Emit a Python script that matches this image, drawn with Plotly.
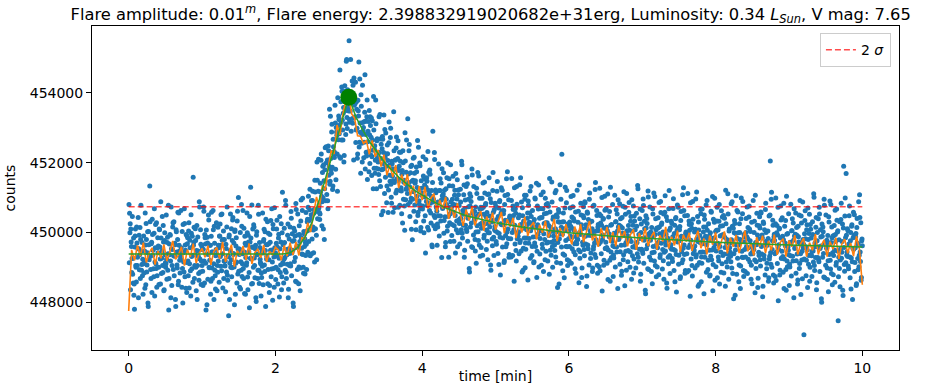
import numpy as np
import plotly.graph_objects as go

# ---------------- data ----------------
title_text = ("Flare amplitude: 0.01<sup><i>m</i></sup>, Flare energy: 2.398832919020682e+31erg, "
              "Luminosity: 0.34 <i>L</i><sub><i>Sun</i></sub>, V mag: 7.65")
x_label = "time [min]"
y_label = "counts"
x_ticks = [0, 2, 4, 6, 8, 10]
y_ticks = [448000, 450000, 452000, 454000]
legend_label = "2 <i>σ</i>"

# raw photometry points, grouped in 0.1-min bins (values in counts), first pass
scatter_segments_a = [
 [450800, 450550, 450250, 450100, 449600, 449250, 448800, 448550, 448200, 447800, 449900, 449050],
 [448580, 449700, 449290, 450430, 449530, 448930, 450140, 449800, 449460, 449080, 448760, 448230],
 [449900, 449140, 448400, 449640, 450260, 448870, 449420, 447980, 450030, 449220, 451330, 449320],
 [448680, 449720, 450380, 449350, 448960, 449980, 448180, 449560, 449100, 450280, 448760, 449850],
 [449610, 448510, 450080, 449240, 450880, 448820, 449470, 449050, 450200, 448330, 449770, 449360],
 [449000, 450500, 448660, 449860, 449390, 447780, 449670, 449940, 449180, 450730, 448480, 449510],
 [450280, 449330, 448760, 449690, 448080, 450080, 449440, 448980, 450580, 448600, 449630, 449200],
 [449320, 450630, 449220, 450030, 447980, 449420, 448870, 450260, 449640, 448400, 449140, 449900],
 [449850, 448760, 450280, 449100, 449560, 448180, 449980, 448960, 449350, 451580, 449720, 448680],
 [449360, 449770, 448330, 450200, 449050, 449470, 448820, 450880, 449240, 450080, 448510, 449610],
 [449510, 448480, 450730, 449180, 449940, 449670, 447780, 449390, 449860, 448660, 450500, 449000],
 [449200, 449630, 448600, 450580, 448980, 449440, 450080, 448080, 449690, 448760, 449330, 450280],
 [448330, 448860, 449180, 449560, 449900, 450240, 449030, 449630, 450530, 449390, 449800, 448680],
 [449800, 449040, 448300, 449540, 450160, 448770, 449320, 447610, 449930, 449120, 450530, 449220],
 [448730, 449770, 450430, 449400, 449010, 450030, 448230, 449610, 449150, 450330, 448810, 451000],
 [449530, 448430, 450000, 449160, 450800, 448740, 449390, 448970, 450120, 448250, 449690, 449280],
 [449060, 450560, 448720, 449920, 449450, 447840, 449730, 451300, 449240, 450790, 448540, 449570],
 [450220, 449270, 448700, 449630, 448020, 450020, 449380, 448920, 450520, 448540, 449570, 449140],
 [448180, 448710, 449030, 449410, 449750, 450090, 448880, 449480, 450380, 449240, 449650, 448530],
 [449980, 449220, 448480, 449720, 450340, 448950, 449500, 448060, 450110, 449300, 450710, 449400],
 [448650, 449690, 450350, 449320, 448930, 449950, 448150, 449530, 449070, 450250, 448730, 451150],
 [449650, 448550, 450120, 449280, 450920, 448860, 449510, 449090, 450240, 448370, 449810, 449400],
 [449100, 450600, 448760, 449960, 449490, 447880, 449770, 450040, 449280, 450830, 448580, 449610],
 [450530, 449580, 449010, 449940, 448330, 450330, 449840, 449380, 450980, 449000, 450030, 449600],
 [448810, 449340, 449660, 450040, 450380, 450720, 449740, 450340, 451240, 450100, 450510, 449390],
 [450920, 450160, 449420, 450660, 451500, 450110, 450660, 449220, 451500, 450690, 452100, 450790],
 [450370, 451410, 452070, 451040, 450880, 451900, 450100, 451480, 451250, 452430, 450910, 452000],
 [452010, 450910, 452480, 451640, 453530, 451470, 452120, 451700, 453100, 451230, 452670, 452260],
 [452150, 453650, 451810, 453010, 452790, 451180, 453070, 453340, 452830, 454660, 452130, 453160],
 [454170, 453220, 452650, 453580, 452210, 454210, 453570, 453110, 454960, 452980, 454010, 453580],
 [455500, 453160, 453480, 453860, 454000, 454340, 453130, 453730, 454430, 453290, 453700, 452580],
 [453750, 452990, 452250, 453490, 454890, 452590, 453140, 451700, 453620, 452810, 454220, 452910],
 [452140, 453180, 454520, 452810, 452300, 453320, 451520, 452900, 452320, 453500, 451980, 453070],
 [452730, 451630, 453200, 452360, 453900, 451840, 452490, 452070, 453120, 451250, 452690, 452280],
 [451820, 453320, 451480, 452680, 452120, 450510, 452400, 452670, 451820, 453370, 451120, 452150],
 [452850, 451900, 451330, 452260, 450570, 452570, 451930, 451470, 452990, 451010, 452040, 451610],
 [450580, 453460, 451430, 451810, 452080, 452420, 451210, 451810, 452630, 451490, 451900, 450780],
 [452040, 451280, 450540, 451780, 452340, 450950, 451500, 450060, 452050, 451240, 452650, 451340],
 [453260, 451680, 452340, 451310, 450870, 451890, 450090, 451470, 450950, 452130, 450610, 451700],
 [451410, 450310, 451880, 451040, 452640, 450580, 451230, 450810, 451910, 450040, 451480, 451070],
 [450670, 452170, 450330, 451530, 451020, 449410, 451300, 451570, 450770, 452320, 450070, 451100],
 [451790, 450840, 450270, 451200, 449590, 452900, 450950, 450490, 452090, 450110, 451140, 450710],
 [449630, 450160, 450480, 450860, 451200, 451540, 450330, 450930, 451830, 450690, 451100, 449980],
 [451210, 450450, 449710, 450950, 451570, 450180, 450730, 449290, 451340, 450530, 451940, 450630],
 [449910, 450950, 451610, 450580, 450190, 451210, 449410, 450790, 450330, 451510, 449990, 451080],
 [450770, 449670, 451240, 450400, 452040, 449980, 450630, 450210, 451360, 449490, 450930, 450520],
 [450090, 451590, 449750, 450950, 450480, 448870, 450760, 451030, 450270, 451820, 449570, 450600],
 [451320, 450370, 449800, 450730, 449120, 451120, 450480, 450020, 451620, 449640, 450670, 450240],
 [449570, 450690, 450280, 451420, 450520, 449920, 451130, 450790, 450450, 450070, 449750, 449220],
 [450260, 451570, 450160, 450970, 448920, 450360, 449810, 451200, 450580, 449340, 450080, 450840],
 [450750, 449660, 451180, 450000, 450460, 449080, 450880, 449860, 450250, 451280, 450620, 449580],
 [450220, 450630, 449190, 451060, 449910, 450330, 449680, 451740, 450100, 450940, 449370, 450470],
 [450330, 449300, 451550, 450000, 450760, 450490, 448600, 450210, 450680, 449480, 451320, 449820],
 [449990, 450420, 449390, 451370, 449770, 450230, 450870, 448870, 450480, 449550, 450120, 451070],
 [448990, 449520, 449840, 450220, 450560, 450900, 449690, 450290, 451190, 450050, 450460, 449340],
 [450630, 449870, 449130, 450370, 450990, 449600, 450150, 448710, 450760, 449950, 451360, 450050],
 [449380, 450420, 451080, 450050, 449660, 450680, 448880, 450260, 449800, 450980, 449460, 450550],
 [450280, 449180, 450750, 449910, 451550, 449490, 450140, 449720, 450870, 449000, 450440, 450030],
 [449640, 451140, 449300, 450500, 450030, 448420, 450310, 450580, 449820, 451370, 449120, 450150],
 [452240, 449950, 449380, 450310, 448700, 450700, 450060, 449600, 451200, 449220, 450250, 449820],
 [449180, 450300, 449890, 451030, 450130, 449530, 450740, 450400, 450060, 449680, 449360, 448830],
 [449900, 451210, 449800, 450610, 448560, 450000, 449450, 450840, 450220, 448980, 449720, 450480],
 [450420, 449330, 450850, 449670, 450130, 448750, 450550, 449530, 449920, 450950, 450290, 449250],
 [449910, 450320, 448880, 450750, 449600, 450020, 449370, 451430, 449790, 450630, 449060, 450160],
 [450050, 449020, 451270, 449720, 450480, 450210, 448320, 449930, 450400, 449200, 451040, 449540],
 [449720, 450150, 449120, 451100, 449500, 449960, 450600, 448600, 450210, 449280, 449850, 450800],
 [448740, 449270, 449590, 449970, 450310, 450650, 449440, 450040, 450940, 449800, 450210, 449090],
 [450390, 449630, 448890, 450130, 450750, 449360, 449910, 448470, 450520, 449710, 451120, 449810],
 [449160, 450200, 450860, 449830, 449440, 450460, 448660, 450040, 449580, 450760, 449240, 450330],
 [450080, 448980, 450550, 449710, 451350, 449290, 449940, 449520, 450670, 448800, 450240, 449830],
 [449460, 450960, 449120, 450320, 449850, 448240, 450130, 450400, 449640, 451190, 448940, 449970],
 [450730, 449780, 449210, 450140, 448530, 450530, 449890, 449430, 451030, 449050, 450080, 449650],
 [449010, 450130, 449720, 450860, 449960, 449360, 450570, 450230, 449890, 449510, 449190, 448660],
 [449740, 451050, 449640, 450450, 448400, 449840, 449290, 450680, 450060, 448820, 449560, 450320],
 [450260, 449170, 450690, 449510, 449970, 448590, 450390, 449370, 449760, 450790, 450130, 449090],
 [449760, 450170, 448730, 450600, 449450, 449870, 449220, 451280, 449640, 450480, 448910, 450010],
 [449900, 448870, 451120, 449570, 450330, 450060, 448170, 449780, 450250, 449050, 450890, 449390],
 [449580, 450010, 448980, 450960, 449360, 449820, 450460, 448460, 450070, 449140, 449710, 450660],
 [448590, 449120, 449440, 449820, 450160, 450500, 449290, 449890, 450790, 449650, 450060, 448940],
 [450250, 449490, 448750, 449990, 450610, 449220, 449770, 448330, 450380, 449570, 450980, 449670],
 [449020, 450060, 450720, 449690, 449300, 450320, 448520, 449900, 449440, 450620, 449100, 450190],
 [449940, 448840, 450410, 449570, 451210, 449150, 449800, 449380, 450530, 448660, 450100, 449690],
 [449320, 450820, 448980, 450180, 449710, 448100, 449990, 450260, 449500, 451050, 448800, 449830],
 [450590, 449640, 449070, 450000, 448390, 450390, 449750, 449290, 450890, 448910, 449940, 449510],
 [448880, 450000, 449590, 450730, 449830, 449230, 450440, 450100, 449760, 449380, 449060, 448530],
 [449610, 450920, 449510, 450320, 448270, 449710, 449160, 450550, 449930, 448690, 449430, 450190],
 [450130, 449040, 450560, 449380, 449840, 448460, 450260, 449240, 449630, 450660, 450000, 448960],
 [449630, 450040, 448600, 450470, 449320, 452050, 449090, 451150, 449510, 450350, 448780, 449880],
 [449770, 448740, 450990, 449440, 450200, 449930, 448040, 449650, 450120, 448920, 450760, 449260],
 [449460, 449890, 448860, 450840, 449240, 449700, 450340, 448340, 449950, 449020, 449590, 450540],
 [448480, 449010, 449330, 449710, 450050, 450390, 449180, 449780, 450680, 449540, 449950, 448830],
 [450140, 449380, 448640, 449880, 450500, 449110, 449660, 448220, 450270, 449460, 450870, 449560],
 [447070, 449960, 450620, 449590, 449200, 450220, 448420, 449800, 449340, 450520, 449000, 450090],
 [449840, 448740, 450310, 449470, 451110, 449050, 449700, 449280, 450430, 448560, 450000, 449590],
 [449220, 450720, 448880, 450080, 449610, 448000, 449890, 450160, 449400, 450950, 448700, 449730],
 [450500, 449550, 448980, 449910, 448300, 450300, 449660, 449200, 450800, 448820, 449850, 449420],
 [448790, 449910, 449500, 450640, 449740, 449140, 450350, 450010, 447470, 449290, 448970, 448440],
 [449530, 450840, 449430, 450240, 448190, 451900, 449080, 450470, 449850, 451690, 449350, 450110],
 [450050, 448960, 450480, 449300, 449760, 448380, 450180, 449160, 449550, 450580, 449920, 448880],
 [449560, 449970, 448530, 450400, 449250, 449670, 449020, 451080, 449440, 450280, 448710, 449810],
]

# second pass of points, read between the first ones (same 0.1-min bins)
scatter_segments_b = [
 [449130, 449990, 448360, 449730, 448850, 450460, 449260, 449840, 448520, 449580, 450100, 449000],
 [450160, 449050, 449530, 448130, 449920, 449360, 448680, 450780, 448920, 449710, 449230, 449100],
 [448840, 449470, 450560, 448500, 449800, 449070, 450020, 447880, 449650, 449320, 450310, 448940],
 [449680, 448280, 449940, 449490, 448730, 450680, 449150, 450230, 448970, 448430, 449560, 449420],
 [449000, 450100, 449580, 448520, 449840, 449260, 450460, 448850, 449730, 448360, 449990, 449130],
 [449100, 449230, 449710, 448920, 450780, 448680, 449360, 449920, 448130, 449530, 449050, 450160],
 [448940, 450310, 449320, 449650, 447880, 450020, 449070, 449800, 448500, 450560, 449470, 448840],
 [449420, 449560, 448430, 448970, 450230, 449150, 450680, 448730, 449490, 449940, 448280, 449680],
 [449180, 450040, 448410, 449780, 448900, 450510, 449310, 449890, 448570, 449630, 450150, 449050],
 [450110, 449000, 449480, 448080, 449870, 449310, 448630, 450730, 448870, 449660, 449180, 449050],
 [448890, 449520, 450610, 448550, 449850, 449120, 450070, 447930, 449700, 449370, 450360, 448990],
 [449630, 448230, 449890, 449440, 448680, 450630, 449100, 450180, 448920, 448380, 449510, 449370],
 [449050, 450150, 449630, 448570, 449890, 449310, 450510, 448900, 449780, 448410, 450040, 449180],
 [449050, 449180, 449660, 448870, 450730, 448630, 449310, 449870, 448080, 449480, 449000, 450110],
 [448990, 450360, 449370, 449700, 447930, 450070, 449120, 449850, 448550, 450610, 449520, 448890],
 [449370, 449510, 448380, 448920, 450180, 449100, 450630, 448680, 449440, 449890, 448230, 449630],
 [449130, 449990, 448360, 449730, 448850, 450460, 449260, 449840, 448520, 449580, 450100, 449000],
 [450160, 449050, 449530, 448130, 449920, 449360, 448680, 450780, 448920, 449710, 449230, 449100],
 [448840, 449470, 450560, 448500, 449800, 449070, 450020, 447880, 449650, 449320, 450310, 448940],
 [449680, 448280, 449940, 449490, 448730, 450680, 449150, 450230, 448970, 448430, 449560, 449420],
 [449000, 450100, 449580, 448520, 449840, 449260, 450460, 448850, 449730, 448360, 449990, 449130],
 [449100, 449230, 449710, 448920, 450780, 448680, 449360, 449920, 448130, 449530, 449050, 450160],
 [449040, 450410, 449420, 449750, 447980, 450120, 449170, 449900, 448600, 450660, 449570, 448940],
 [449930, 448530, 450190, 449740, 448980, 450930, 449550, 450630, 449370, 448830, 449960, 449820],
 [449710, 450570, 448940, 450310, 449430, 451040, 450070, 450650, 449330, 450390, 450910, 449810],
 [451180, 450070, 450550, 449150, 451160, 450600, 449920, 452020, 450390, 451180, 450700, 450570],
 [450530, 451160, 452250, 450190, 451720, 450990, 451940, 449800, 451800, 451470, 452460, 451090],
 [452080, 450680, 452340, 451890, 451380, 453330, 451800, 452880, 451870, 451330, 452460, 452320],
 [452280, 453140, 451510, 452880, 452250, 453860, 452660, 453240, 452170, 453230, 453750, 452650],
 [454050, 452940, 453420, 452020, 454050, 453490, 452810, 454910, 453300, 454090, 453610, 453480],
 [453240, 453870, 454960, 452900, 454000, 453270, 454220, 452080, 453650, 453320, 454310, 452940],
 [453530, 452130, 453790, 453340, 452450, 454400, 452870, 453950, 452560, 452020, 453150, 453010],
 [452590, 453450, 451820, 453190, 452190, 453800, 452600, 453180, 451740, 452800, 453320, 452220],
 [453280, 452170, 452650, 451250, 452940, 452380, 451700, 453800, 451840, 452630, 452150, 452020],
 [451660, 452290, 453380, 451320, 452530, 451800, 452750, 450610, 452290, 451960, 452950, 451580],
 [452250, 450850, 452510, 452060, 451220, 453170, 451640, 452720, 451380, 450840, 451970, 451830],
 [451480, 452340, 450710, 452080, 451130, 452740, 451540, 452120, 450720, 451780, 452300, 451200],
 [452300, 451190, 451670, 450270, 452000, 451440, 450760, 452860, 450940, 451730, 451250, 451120],
 [450800, 451430, 452520, 450460, 451710, 450980, 451930, 449790, 451500, 451170, 452160, 450790],
 [451480, 450080, 451740, 451290, 450490, 452440, 450910, 451990, 450680, 450140, 451270, 451130],
 [450760, 451620, 449990, 451360, 450480, 452090, 450890, 451470, 450150, 451210, 451730, 450630],
 [451670, 450560, 451040, 449640, 451430, 450870, 450190, 452290, 450430, 451220, 450740, 450610],
 [450240, 450870, 451960, 449900, 451200, 450470, 451420, 449280, 451050, 450720, 451710, 450340],
 [450990, 449590, 451250, 450800, 450040, 451990, 450460, 451540, 450280, 449740, 450870, 450730],
 [450230, 451330, 450810, 449750, 451070, 450490, 451690, 450080, 450960, 449590, 451220, 450360],
 [450260, 450390, 450870, 450080, 451940, 449840, 450520, 451080, 449290, 450690, 450210, 451320],
 [450030, 451400, 450410, 450740, 448970, 451110, 450160, 450890, 449590, 451650, 450560, 449930],
 [450460, 450600, 449470, 450010, 451270, 450190, 451720, 449770, 450530, 450980, 449320, 450720],
 [450120, 450980, 449350, 450720, 449840, 451450, 450250, 450830, 449510, 450570, 451090, 449990],
 [451100, 449990, 450470, 449070, 450860, 450300, 449620, 451720, 449860, 450650, 450170, 450040],
 [449740, 450370, 451460, 449400, 450700, 449970, 450920, 448780, 450550, 450220, 451210, 449840],
 [450540, 449140, 450800, 450350, 449590, 451540, 450010, 451090, 449830, 449290, 450420, 450280],
 [449820, 450920, 450400, 449340, 450660, 450080, 451280, 449670, 450550, 449180, 450810, 449950],
 [449890, 450020, 450500, 449710, 451570, 449470, 450150, 450710, 448920, 450320, 449840, 450950],
 [449700, 451070, 450080, 450410, 448640, 450780, 449830, 450560, 449260, 451320, 450230, 449600],
 [450150, 450290, 449160, 449700, 450960, 449880, 451410, 449460, 450220, 450670, 449010, 450410],
 [449830, 450690, 449060, 450430, 449550, 451160, 449960, 450540, 449220, 450280, 450800, 449700],
 [450830, 449720, 450200, 448800, 450590, 450030, 449350, 451450, 449590, 450380, 449900, 449770],
 [449480, 450110, 451200, 449140, 450440, 449710, 450660, 448520, 450290, 449960, 450950, 449580],
 [450300, 448900, 450560, 450110, 449350, 451300, 449770, 450850, 449590, 449050, 450180, 450040],
 [449600, 450700, 450180, 449120, 450440, 449860, 451060, 449450, 450330, 448960, 450590, 449730],
 [449680, 449810, 450290, 449500, 451360, 449260, 449940, 450500, 448710, 450110, 449630, 450740],
 [449510, 450880, 449890, 450220, 448450, 450590, 449640, 450370, 449070, 451130, 450040, 449410],
 [449970, 450110, 448980, 449520, 450780, 449700, 451230, 449280, 450040, 450490, 448830, 450230],
 [449670, 450530, 448900, 450270, 449390, 451000, 449800, 450380, 449060, 450120, 450640, 449540],
 [450680, 449570, 450050, 448650, 450440, 449880, 449200, 451300, 449440, 450230, 449750, 449620],
 [449350, 449980, 451070, 449010, 450310, 449580, 450530, 448390, 450160, 449830, 450820, 449450],
 [450170, 448770, 450430, 449980, 449220, 451170, 449640, 450720, 449460, 448920, 450050, 449910],
 [449480, 450580, 450060, 449000, 450320, 449740, 450940, 449330, 450210, 448840, 450470, 449610],
 [449570, 449700, 450180, 449390, 451250, 449150, 449830, 450390, 448600, 450000, 449520, 450630],
 [449400, 450770, 449780, 450110, 448340, 450480, 449530, 450260, 448960, 451020, 449930, 449300],
 [449870, 450010, 448880, 449420, 450680, 449600, 451130, 449180, 449940, 450390, 448730, 450130],
 [449560, 450420, 448790, 450160, 449280, 450890, 449690, 450270, 448950, 450010, 450530, 449430],
 [450580, 449470, 449950, 448550, 450340, 449780, 449100, 451200, 449340, 450130, 449650, 449520],
 [449250, 449880, 450970, 448910, 450210, 449480, 450430, 448290, 450060, 449730, 450720, 449350],
 [450080, 448680, 450340, 449890, 449130, 451080, 449550, 450630, 449370, 448830, 449960, 449820],
 [449390, 450490, 449970, 448910, 450230, 449650, 450850, 449240, 450120, 448750, 450380, 449520],
 [449480, 449610, 450090, 449300, 451160, 449060, 449740, 450300, 448510, 449910, 449430, 450540],
 [449300, 450670, 449680, 450010, 448240, 450380, 449430, 450160, 448860, 450920, 449830, 449200],
 [449770, 449910, 448780, 449320, 450580, 449500, 451030, 449080, 449840, 450290, 448630, 450030],
 [449470, 450330, 448700, 450070, 449190, 450800, 449600, 450180, 448860, 449920, 450440, 449340],
 [450490, 449380, 449860, 448460, 450250, 449690, 449010, 451110, 449250, 450040, 449560, 449430],
 [449160, 449790, 450880, 448820, 450120, 449390, 450340, 448200, 449970, 449640, 450630, 449260],
 [449990, 448590, 450250, 449800, 449040, 450990, 449460, 450540, 449280, 448740, 449870, 449730],
 [449300, 450400, 449880, 448820, 450140, 449560, 450760, 449150, 450030, 448660, 450290, 449430],
 [449390, 449520, 450000, 449210, 451070, 448970, 449650, 450210, 448420, 449820, 449340, 450450],
 [449220, 450590, 449600, 449930, 448160, 450300, 449350, 450080, 448780, 450840, 449750, 449120],
 [449690, 449830, 448700, 449240, 450500, 449420, 450950, 449000, 449760, 450210, 448550, 449950],
 [449390, 450250, 448620, 449990, 449110, 450720, 449520, 450100, 448780, 449840, 450360, 449260],
 [450420, 449310, 449790, 448390, 450180, 449620, 448940, 451040, 449180, 449970, 449490, 449360],
 [449090, 449720, 450810, 448750, 450050, 449320, 450270, 448130, 449900, 449570, 450560, 449190],
 [449920, 448520, 450180, 449730, 448970, 450920, 449390, 450470, 449210, 448670, 449800, 449660],
 [449240, 450340, 449820, 448760, 450080, 449500, 450700, 449090, 449970, 448600, 450230, 449370],
 [449330, 449460, 449940, 449150, 451010, 448910, 449590, 450150, 448360, 449760, 449280, 450390],
 [449160, 450530, 449540, 449870, 448100, 450240, 449290, 450020, 448720, 450780, 449690, 449060],
 [449640, 449780, 448650, 449190, 450450, 449370, 450900, 448950, 449710, 450160, 448500, 449900],
 [449340, 450200, 448570, 449940, 449060, 450670, 449470, 450050, 448730, 449790, 450310, 449210],
 [450370, 449260, 449740, 448340, 450130, 449570, 448890, 450990, 449130, 449920, 449440, 449310],
 [449040, 449670, 450760, 448700, 450000, 449270, 450220, 448080, 449850, 449520, 450510, 449140],
 [449880, 448480, 450140, 449690, 448930, 450880, 449350, 450430, 449170, 448630, 449760, 449620],
]
segment_width_min = 0.1

# running average (orange), sampled every 0.04 min from 0 to 10
smoothed_counts = [
 447750,
 449500, 449200, 449630, 449320, 449710, 449140, 449420, 449560, 449080, 449470,
 449260, 449660, 449180, 449440, 449760, 449230, 449360, 449590, 449050, 449510,
 449300, 449680, 449120, 449400, 449540,
 449290, 449620, 449070, 449450, 449570, 449240, 449730, 449160, 449390, 449650,
 449020, 449480, 449340, 449610, 449210, 449690, 449100, 449430, 449520, 449270,
 449640, 449150, 449460, 449360, 449580,
 449500, 449200, 449630, 449320, 449710,
 449350, 449730, 449340, 449850, 449820, 450280, 450010, 450510, 451020, 450710,
 451350, 451200, 451860, 452350, 452250, 453080, 452800, 453400, 453790, 453880,
 453400, 453270, 452770, 452760, 452550, 452640, 452240, 452640, 452170, 452370,
 451890, 452230, 451640, 451930, 451590, 451930, 451270, 451660, 451340, 451670,
 451050, 451340, 450830, 451330, 450930, 451310, 450680, 450990, 451110, 450580,
 450930, 450680, 451020, 450390, 450730, 450420, 450840, 450520, 450190, 450660,
 450340, 450740, 450200, 450450, 450610, 450050, 450460, 450240, 450570, 450080,
 450310, 450590, 449980, 450380, 450160, 450420, 449840, 450270, 450000, 450450,
 449900, 450180, 450290, 449800, 450220, 449990, 450330, 449850, 450070, 450390,
 449750, 450130, 449870, 450240, 449930, 449660, 450170, 449870, 450240, 449720,
 450020, 450330, 449770, 449960, 449590, 450120, 449830, 450160, 449700, 450010,
 449600, 450210, 449830, 450040, 449600, 449940, 450090, 449500, 449980, 449730,
 450130, 449610, 449870, 450020, 449510, 449920, 449740, 450160, 449540, 449880,
 449630, 450050, 449440, 449930, 449740, 449990, 449470, 449810, 450050, 449550,
 449830, 449370, 449910, 449650, 450000, 449480, 449750, 450030, 449400, 449850,
 449590, 449930, 449410, 449760, 450050, 449460, 449690, 449340, 449860, 449600,
 449910, 449410, 449760, 449490, 449940, 449360, 449710, 449820, 449310, 449770,
 449590, 449920, 449370, 449680, 449840, 449310, 449710, 449490, 449950, 449370,
 449630, 449790, 449310, 449740, 449520, 449850, 449240, 449670, 449810, 449400,
 449700, 449320, 449890, 449530,
 448500,
]

# flare model (green)
model_time = [0.0, 2.1, 2.2, 2.3, 2.4, 2.5, 2.6, 2.7, 2.8, 2.9, 3.0, 3.1, 3.2, 3.3, 3.4, 3.5,
              3.7, 3.9, 4.1, 4.3, 4.6, 5.0, 5.4, 6.0, 6.6, 7.2, 8.0, 9.0, 10.0]
model_counts = [449380, 449380, 449420, 449560, 449850, 450300, 450950, 451650, 452400, 453150,
                453880, 453300, 452900, 452550, 452250, 451980, 451550, 451200, 450950, 450720,
                450480, 450280, 450140, 449990, 449890, 449810, 449720, 449640, 449580]

peak_time = 3.0
peak_counts = 453880

two_sigma_level = 450740
two_sigma_span = [0.0, 10.0]

# ---------------- build traces ----------------
sc_t, sc_v = [], []
for offset, segs in ((0.5, scatter_segments_a), (1.0, scatter_segments_b)):
    for k, seg in enumerate(segs):
        n = len(seg)
        for j, v in enumerate(seg):
            sc_t.append(k * segment_width_min + (j + offset) * segment_width_min / n)
            sc_v.append(v)

sm_t = np.linspace(0, 10, len(smoothed_counts))

fig = go.Figure()
fig.add_trace(go.Scatter(x=sc_t, y=sc_v, mode="markers",
                         marker=dict(color="#1f77b4", size=5, line=dict(width=0)),
                         showlegend=False, hoverinfo="skip"))
fig.add_trace(go.Scatter(x=sm_t, y=smoothed_counts, mode="lines",
                         line=dict(color="#ff7f0e", width=1.6), showlegend=False))
fig.add_trace(go.Scatter(x=model_time, y=model_counts, mode="lines",
                         line=dict(color="#2ca02c", width=1.5), showlegend=False))
fig.add_trace(go.Scatter(x=two_sigma_span, y=[two_sigma_level] * 2, mode="lines",
                         line=dict(color="rgba(255,0,0,0.7)", width=1.5, dash="6px,3px"),
                         name=legend_label, showlegend=True))
fig.add_trace(go.Scatter(x=[peak_time], y=[peak_counts], mode="markers",
                         marker=dict(color="#008000", size=17), showlegend=False))

font = dict(family="DejaVu Sans", size=14, color="black")
fig.update_layout(
    width=925, height=384,
    margin=dict(l=92, r=26, t=26, b=34, autoexpand=False),
    paper_bgcolor="white", plot_bgcolor="white",
    font=font,
    title=dict(text=title_text, x=0.494, xref="paper", y=1 - 14 / 384, yref="container",
               xanchor="center", yanchor="middle",
               font=dict(family="DejaVu Sans", size=16.3, color="black")),
    legend=dict(x=0.99, y=0.978, xanchor="right", yanchor="top", bgcolor="white",
                bordercolor="#cccccc", borderwidth=1,
                font=dict(family="DejaVu Sans", size=14, color="black")),
    showlegend=True,
)
axis_common = dict(showline=True, linecolor="black", linewidth=1, mirror=True,
                   ticks="outside", ticklen=5, tickcolor="black", showgrid=False, zeroline=False,
                   tickfont=font, automargin=False)
fig.update_xaxes(range=[-0.5, 10.5], tickvals=x_ticks, ticktext=[str(v) for v in x_ticks],
                 title=dict(text=x_label, font=font, standoff=2), **axis_common)
fig.update_yaxes(range=[446630, 455920], tickvals=y_ticks, ticktext=[str(v) for v in y_ticks],
                 title=dict(text=y_label, font=font, standoff=10), **axis_common)

fig.write_html("out.html", config={"displayModeBar": False},
               post_script="document.body.style.margin='0px';")
